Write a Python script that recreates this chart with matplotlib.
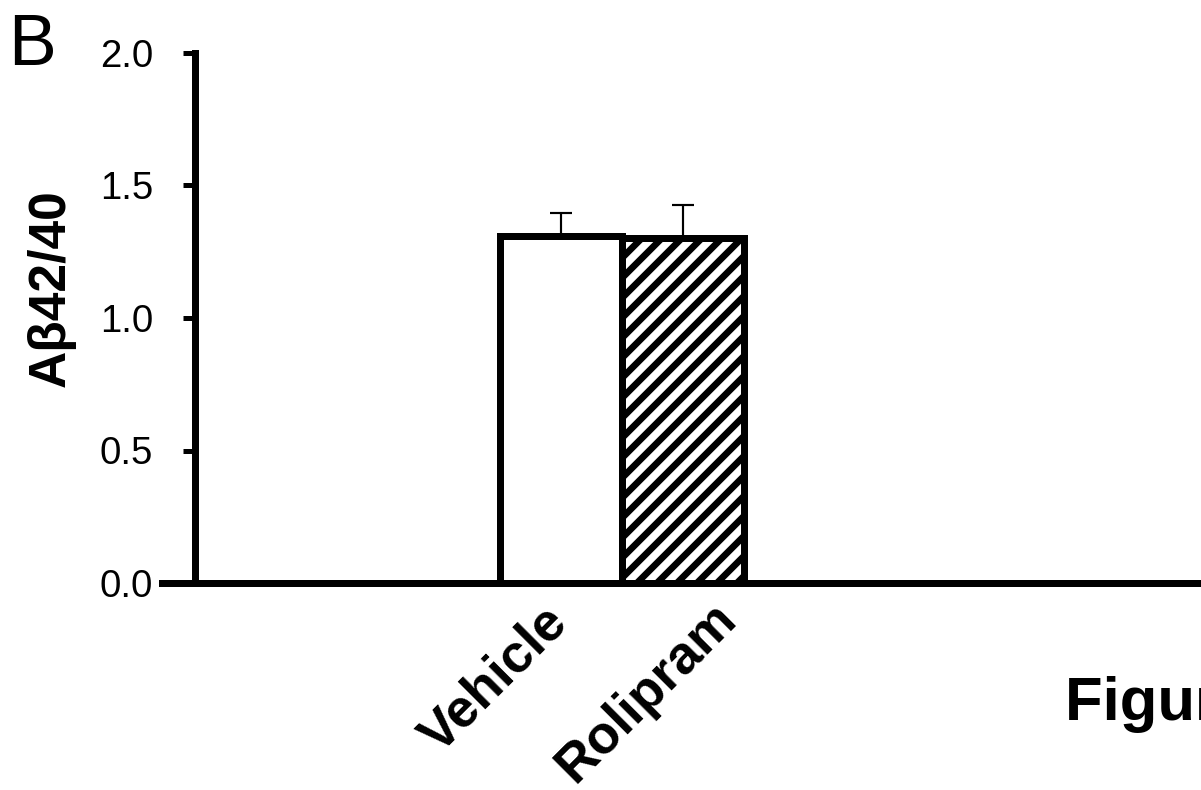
import matplotlib
matplotlib.use('Agg')
import matplotlib.pyplot as plt
import numpy as np

plt.rcParams['font.family'] = ['Liberation Sans', 'DejaVu Sans']
plt.rcParams['hatch.linewidth'] = 4.0
plt.rcParams['hatch.color'] = 'black'

groups = ['Vehicle', 'Rolipram']
ratio = [1.31, 1.30]        # Abeta42/40 ratio
sem = [0.085, 0.125]        # upper error only
hatches = ['', '//']
yticks = [0.0, 0.5, 1.0, 1.5, 2.0]

fig = plt.figure(figsize=(1201/120, 790/120), dpi=120)
ax = fig.add_axes([162/1201, 207/790, 1 - 162/1201, 530/790])

x = np.arange(len(groups))
lw = 4.2
for i in range(len(groups)):
    ax.bar(x[i], ratio[i], width=1.0, color='white', edgecolor='black',
           linewidth=lw, hatch=hatches[i], zorder=2)
ax.errorbar(x, ratio, yerr=[[0, 0], sem], fmt='none', ecolor='black',
            elinewidth=1.3, capsize=6.5, capthick=1.3, zorder=3)

for s in ['top', 'right']:
    ax.spines[s].set_visible(False)
ax.spines['left'].set_position(('data', -3.0))
ax.spines['left'].set_linewidth(lw)
ax.spines['bottom'].set_linewidth(lw)
ax.spines['bottom'].set_zorder(4)

ax.set_xlim(-3.27, 5.25)
ax.set_ylim(0, 2.0)
ax.set_yticks(yticks)
ax.set_yticklabels(['%.1f' % v for v in yticks])
ax.set_xticks([])
ax.tick_params(axis='y', length=7, width=3, pad=18, direction='out',
               labelsize=23)

# rotated category labels
offsets = [(-1, -32), (46, -28)]
for i, lab in enumerate(groups):
    ax.annotate(lab, xy=(x[i], 0), xycoords=('data', 'axes fraction'),
                xytext=offsets[i], textcoords='offset pixels',
                rotation=45, rotation_mode='anchor', ha='right', va='center',
                fontsize=32, fontweight='bold')

fig.text(51/1201, 1 - 288/790, 'A\u03b242/40', rotation=90, ha='center',
         va='center', fontsize=31, fontweight='bold')
fig.text(8/1201, 1 - 65/790, 'B', fontsize=43, va='baseline', ha='left')
fig.text(1065/1201, 1 - 720/790, 'Figure 1', fontsize=37, fontweight='bold',
         va='baseline', ha='left')

fig.savefig('out.png', dpi=120)
